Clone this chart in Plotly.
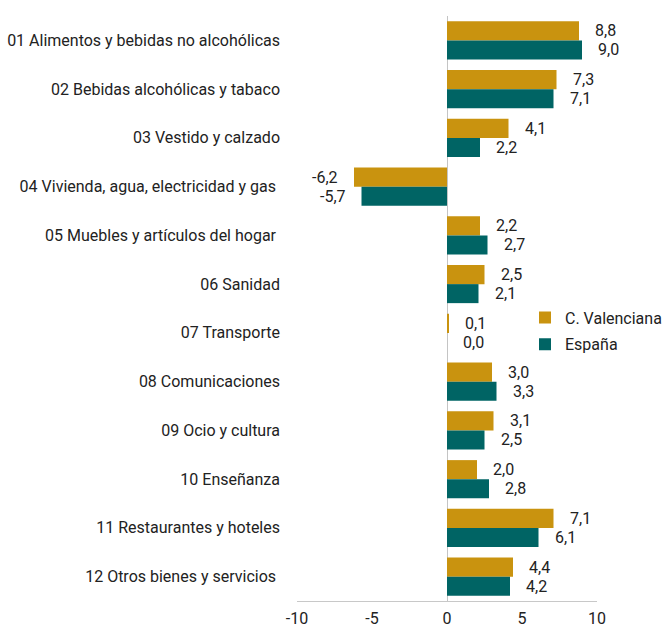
import plotly.graph_objects as go

categories = [
    "01 Alimentos y bebidas no alcohólicas",
    "02 Bebidas alcohólicas y tabaco",
    "03 Vestido y calzado",
    "04 Vivienda, agua, electricidad y gas\u00a0",
    "05 Muebles y artículos del hogar\u00a0",
    "06 Sanidad",
    "07 Transporte",
    "08 Comunicaciones",
    "09 Ocio y cultura",
    "10 Enseñanza",
    "11 Restaurantes y hoteles",
    "12 Otros bienes y servicios\u00a0",
]
valenciana = [8.8, 7.3, 4.1, -6.2, 2.2, 2.5, 0.1, 3.0, 3.1, 2.0, 7.1, 4.4]
espana = [9.0, 7.1, 2.2, -5.7, 2.7, 2.1, 0.0, 3.3, 2.5, 2.8, 6.1, 4.2]
series_names = ["C. Valenciana", "España"]
series_colors = ["#C9930F", "#006464"]
x_ticks = [-10, -5, 0, 5, 10]

FONT = "Roboto"
FS = 16
TXT = "#222222"

fig = go.Figure()
for i, (name, vals, col) in enumerate(zip(series_names, [valenciana, espana], series_colors)):
    fig.add_trace(go.Bar(
        y=categories, x=vals, name=name, orientation="h",
        marker=dict(color=col, line=dict(width=0)),
        legendgroup=f"g{i}", hoverinfo="x+y",
    ))

def fmt(v):
    return f"{v:.1f}".replace(".", ",")

band_px = 585 / len(categories)
bar_half = band_px * (1 - 0.22) / 4
annotations = []
for i, vals in enumerate([valenciana, espana]):
    yshift = bar_half if i == 0 else -bar_half
    for c, v in zip(categories, vals):
        neg = v < 0
        annotations.append(dict(
            x=v, y=c, text=fmt(v), showarrow=False,
            xanchor="right" if neg else "left",
            xshift=-14 if neg else 14, yshift=yshift,
            font=dict(family=FONT, size=FS, color=TXT),
        ))

fig.update_layout(
    width=664, height=628,
    margin=dict(l=297, r=67, t=16, b=27, autoexpand=False),
    paper_bgcolor="white", plot_bgcolor="white",
    barmode="group", bargap=0.22, bargroupgap=0,
    font=dict(family=FONT, size=FS, color=TXT),
    annotations=annotations,
    showlegend=True,
    legend=dict(
        x=(525 - 297) / 300, y=(601 - 300.5) / 585, xanchor="left", yanchor="top",
        font=dict(family=FONT, size=FS, color=TXT),
        tracegroupgap=3, traceorder="grouped",
        bgcolor="rgba(0,0,0,0)",
    ),
)
fig.update_xaxes(
    range=[-10, 10], tickvals=x_ticks, ticktext=[str(t) for t in x_ticks],
    showgrid=False, zeroline=True, zerolinecolor="#c4c4c4", zerolinewidth=1,
    showline=True, linecolor="#c8c8c8", linewidth=1, ticks="", automargin=False,
    ticklabelstandoff=3, tickfont=dict(family=FONT, size=FS, color=TXT),
)
fig.update_yaxes(
    autorange="reversed", showgrid=False, zeroline=False, showline=False,
    ticks="", ticklabelstandoff=16, automargin=False,
    tickfont=dict(family=FONT, size=FS, color=TXT),
)

fig.write_html(
    "out.html",
    config={"displayModeBar": False},
    post_script="document.body.style.margin='0';document.body.style.overflow='hidden';",
)
